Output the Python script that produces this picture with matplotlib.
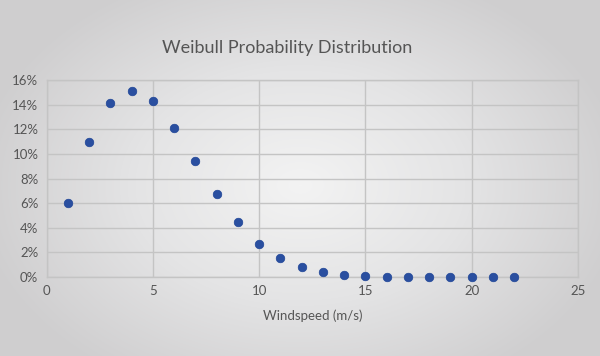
import numpy as np
import matplotlib
matplotlib.use("Agg")
import matplotlib.pyplot as plt
from matplotlib.colors import LinearSegmentedColormap
from matplotlib.ticker import PercentFormatter

# Data
windspeed = [1, 2, 3, 4, 5, 6, 7, 8, 9, 10, 11, 12, 13, 14, 15, 16, 17, 18, 19, 20, 21, 22]
probability = [0.0601, 0.1099, 0.1410, 0.1513, 0.1427, 0.1213, 0.0942, 0.0672,
               0.0444, 0.0271, 0.0154, 0.0079, 0.0041, 0.0018, 0.0008, 0.0003,
               0.0001, 0.0, 0.0, 0.0, 0.0, 0.0]
xticks = [0, 5, 10, 15, 20, 25]
yticks = [0, 0.02, 0.04, 0.06, 0.08, 0.10, 0.12, 0.14, 0.16]

plt.rcParams['font.family'] = ['Lato', 'DejaVu Sans']
text_col = '#555555'

fig = plt.figure(figsize=(6.0, 3.56), dpi=100)

# radial gray background
bg = fig.add_axes([0, 0, 1, 1], zorder=0)
yy, xx = np.mgrid[0:356, 0:600]
r = np.sqrt(((xx - 300) / 330.0) ** 2 + ((yy - 185) / 230.0) ** 2)
r = np.clip(r, 0, 1)
cmap = LinearSegmentedColormap.from_list('bg', ['#f3f3f3', '#e4e4e5', '#cfcecf'])
bg.imshow(r, cmap=cmap, aspect='auto', vmin=0, vmax=1)
bg.axis('off')

ax = fig.add_axes([46.7 / 600, 1 - 277 / 356, (578 - 46.7) / 600, (277 - 80) / 356], zorder=1)
ax.patch.set_alpha(0)
ax.scatter(windspeed, probability, s=38, color='#2a4fa0', edgecolors='#1f4597',
           linewidths=0.5, zorder=3, clip_on=False)

ax.set_xlim(0, 25)
ax.set_ylim(0, 0.16)
ax.set_xticks(xticks)
ax.set_yticks(yticks)
ax.yaxis.set_major_formatter(PercentFormatter(1.0, decimals=0))
ax.grid(True, color='#c4c4c4', linewidth=1.0)
ax.set_axisbelow(True)
for s in ax.spines.values():
    s.set_color('#c4c4c4')
    s.set_linewidth(1.0)
ax.tick_params(length=0, labelsize=9.5, colors=text_col, pad=6)

ax.set_xlabel('Windspeed (m/s)', fontsize=9.5, color=text_col, labelpad=9)
fig.text(0.478, 0.865, 'Weibull Probability Distribution', ha='center', va='center',
         fontsize=13, color=text_col)

fig.savefig('out.png', dpi=100)
